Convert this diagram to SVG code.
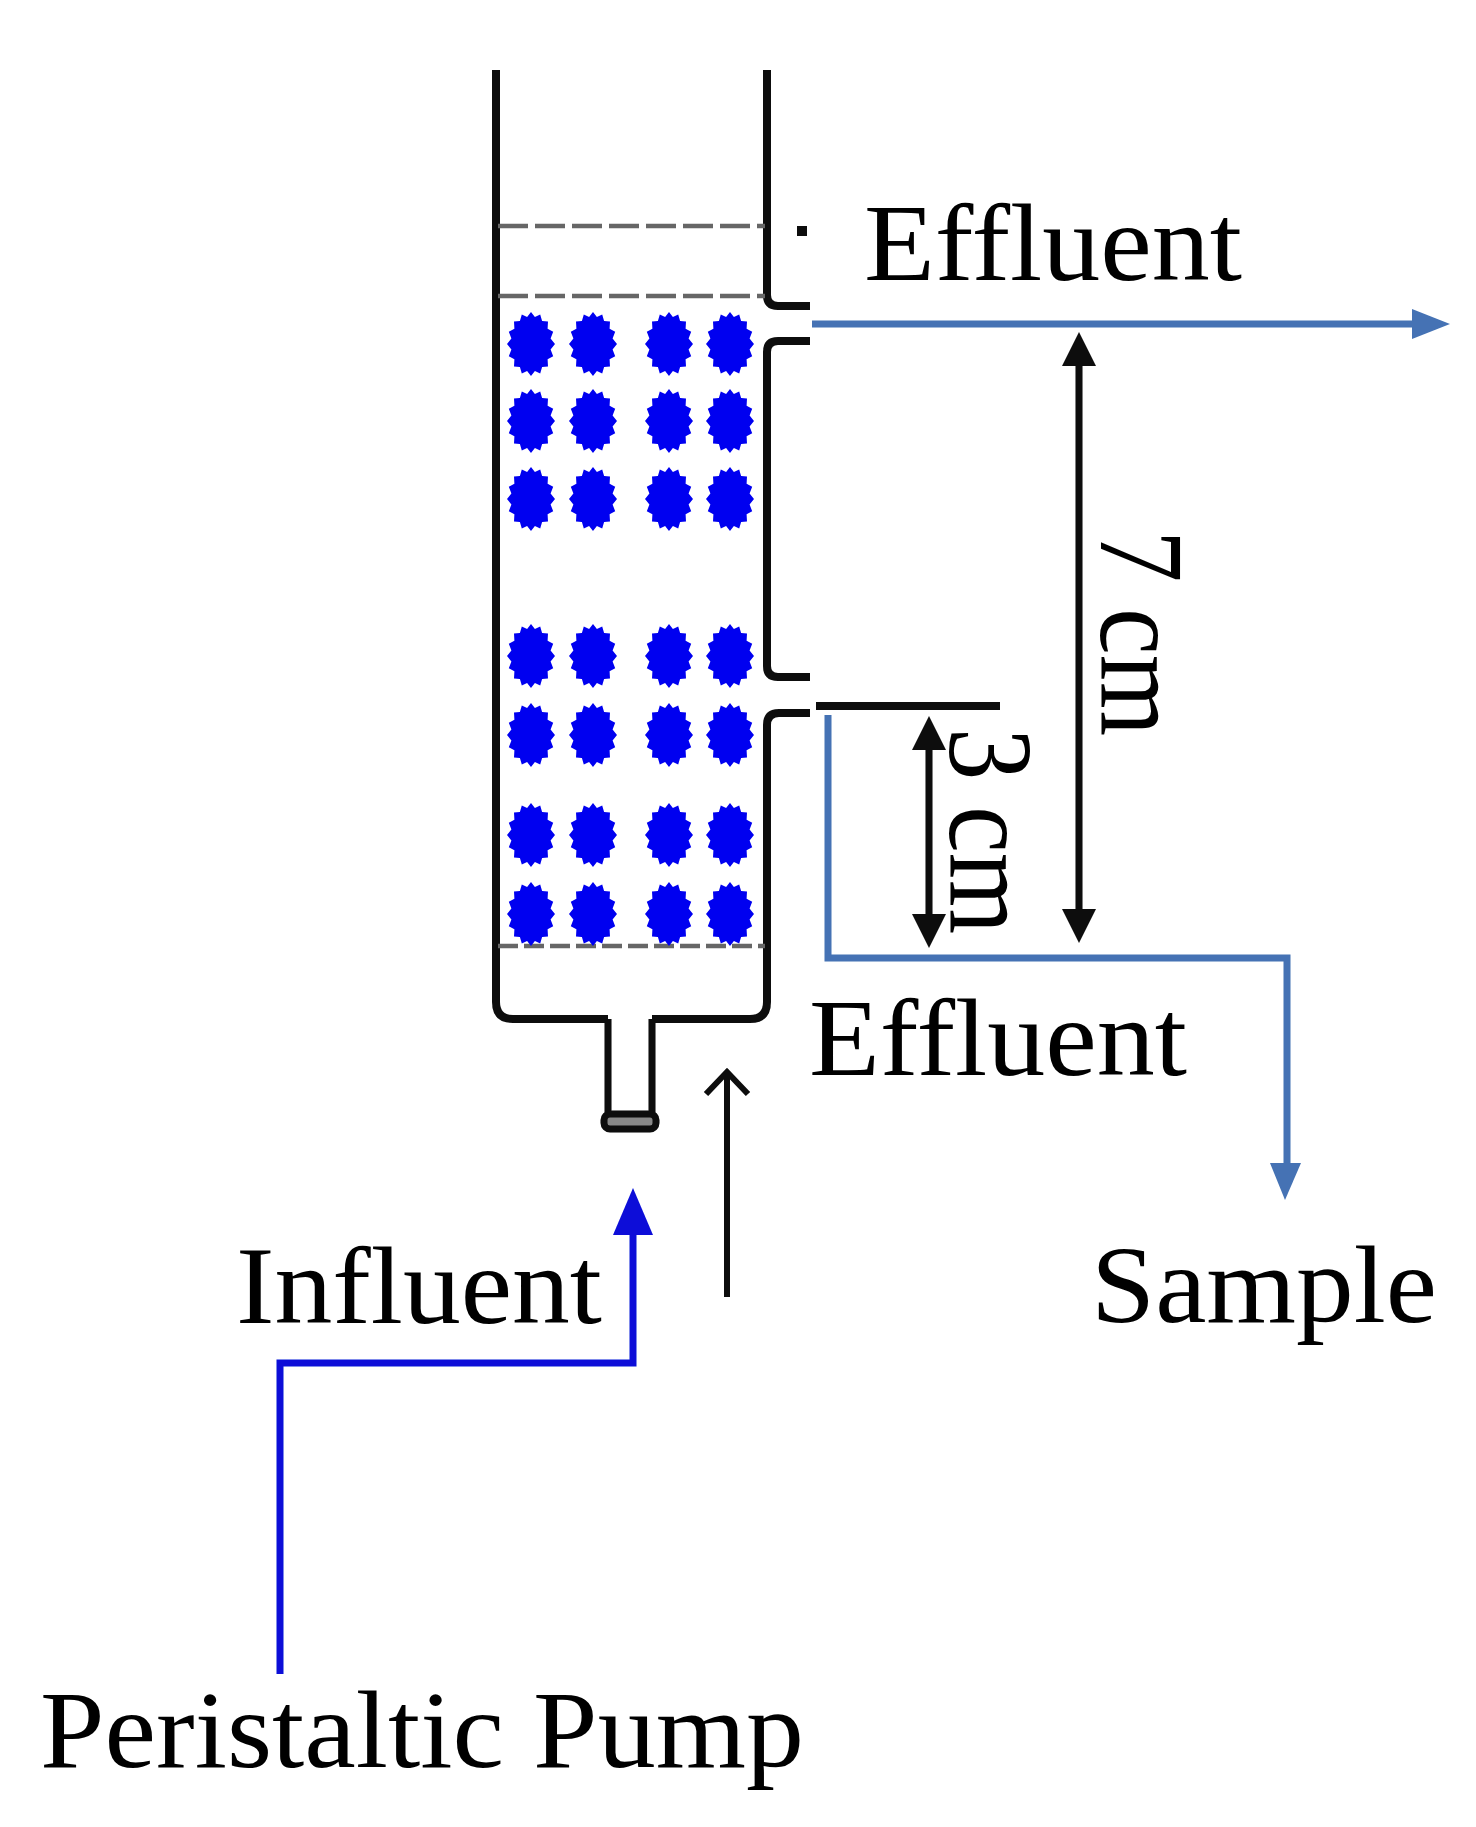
<svg xmlns="http://www.w3.org/2000/svg" width="1476" height="1827" viewBox="0 0 1476 1827">
<style>
.t{font-family:"Liberation Serif","Times New Roman",serif;font-size:110px;fill:#050505}
.r{font-size:120px}
.w{fill:none;stroke:#0a0a0a;stroke-width:8;stroke-linejoin:round}
.d{fill:none;stroke:#666;stroke-width:4.5;stroke-dasharray:30 7}
.b{fill:none;stroke:#4472b4;stroke-width:7}
.u{fill:none;stroke:#0a10d8;stroke-width:7}
.k{fill:none;stroke:#0a0a0a;stroke-width:7}
.bead{fill:#0000f0}
</style>
<defs>
<filter id="soft" filterUnits="userSpaceOnUse" x="0" y="0" width="1476" height="1827"><feGaussianBlur stdDeviation="0.6"/></filter>
<polygon id="b" class="bead" points="24,0 19.6,5.4 22.2,12.3 16.6,15.3 17,22.6 11.1,22.9 9.2,29.6 3.9,27 0,32 -3.9,27 -9.2,29.6 -11.1,22.9 -17,22.6 -16.6,15.3 -22.2,12.3 -19.6,5.4 -24,0 -19.6,-5.4 -22.2,-12.3 -16.6,-15.3 -17,-22.6 -11.1,-22.9 -9.2,-29.6 -3.9,-27 0,-32 3.9,-27 9.2,-29.6 11.1,-22.9 17,-22.6 16.6,-15.3 22.2,-12.3 19.6,-5.4"/>
<g id="row"><use href="#b" x="531"/><use href="#b" x="593"/><use href="#b" x="669"/><use href="#b" x="730"/></g>
</defs>
<rect width="1476" height="1827" fill="#fff"/>
<g id="column" filter="url(#soft)">
<path class="w" d="M496 70V1002Q496 1019 513 1019H608M652 1019H750Q767 1019 767 1002V725Q767 713 779 713H810"/>
<path class="w" d="M767 70V295Q767 306 778 306H810"/>
<path class="w" d="M810 341H778Q767 341 767 352V666Q767 677 778 677H810"/>
<path class="d" d="M498 226H765M498 296H765"/>
<path class="d" d="M498 946H765" style="stroke-dasharray:20 6"/>
<rect x="797" y="226" width="10" height="10" fill="#0a0a0a"/>
<path class="w" style="stroke-width:7" d="M608 1019V1113M652 1019V1113"/>
<rect x="604" y="1114" width="52" height="15" rx="6" fill="#888" stroke="#0a0a0a" stroke-width="7"/>
<path d="M816 706H1000" class="w"/>
</g>
<g id="beads" filter="url(#soft)">
<use href="#row" y="344"/><use href="#row" y="421"/><use href="#row" y="499"/>
<use href="#row" y="656"/><use href="#row" y="735"/><use href="#row" y="835"/><use href="#row" y="914"/>
</g>
<g id="connectors" filter="url(#soft)">
<path class="b" d="M812 324H1418"/><path d="M1450 324L1412 309V339Z" fill="#4472b4"/>
<path class="b" d="M828 715V958H1287V1172"/><path d="M1285 1200L1270 1163H1301Z" fill="#4472b4"/>
<path class="u" d="M280 1674V1363H633V1230"/><path d="M633 1188L613 1235H653Z" fill="#0a10d8"/>
<path class="k" style="stroke-width:6" d="M727 1297V1073M706 1094L727 1072L748 1094"/>
<path class="k" d="M1079 360V915"/><path d="M1079 332L1062 366H1096ZM1079 943L1062 909H1096Z" fill="#0a0a0a"/>
<path class="k" d="M929 745V915"/><path d="M929 716L912 750H946ZM929 948L912 914H946Z" fill="#0a0a0a"/>
</g>
<g id="labels" filter="url(#soft)">
<text class="t" x="864" y="280" textLength="378" lengthAdjust="spacingAndGlyphs">Effluent</text>
<text class="t" x="809" y="1075" textLength="378" lengthAdjust="spacingAndGlyphs">Effluent</text>
<text class="t" x="236" y="1323" textLength="366" lengthAdjust="spacingAndGlyphs">Influent</text>
<text class="t" x="1091" y="1322" textLength="346" lengthAdjust="spacingAndGlyphs">Sample</text>
<text class="t" x="40" y="1767" textLength="764" lengthAdjust="spacingAndGlyphs">Peristaltic Pump</text>
<text class="t r" transform="translate(1101 530) rotate(90)" textLength="206" lengthAdjust="spacingAndGlyphs">7 cm</text>
<text class="t r" transform="translate(950 728) rotate(90)" textLength="206" lengthAdjust="spacingAndGlyphs">3 cm</text>
</g>
</svg>
